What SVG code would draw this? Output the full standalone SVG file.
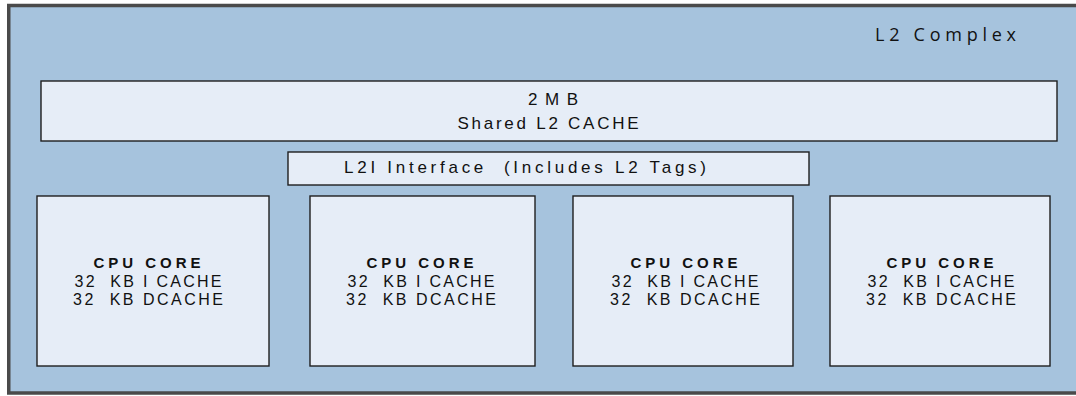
<svg xmlns="http://www.w3.org/2000/svg" width="1076" height="396" viewBox="0 0 1076 396">
<style>
.box{fill:#e6edf7;stroke:#1e1e1e;stroke-width:1.4}
.t{font-family:"Liberation Sans",Arial,sans-serif;font-size:17px;fill:#111}
.c{font-family:"Liberation Sans",Arial,sans-serif;font-size:16px;fill:#111;text-anchor:middle}
.b{font-weight:bold;font-size:15px}
</style>
<rect width="1076" height="396" fill="#ffffff"/>
<g id="l2complex">
<rect x="8.75" y="5.5" width="1080" height="387.5" fill="#a6c3dd" stroke="#4a4a4a" stroke-width="3.5"/>
<text x="875" y="41" font-family="'Open Sans','Noto Sans',sans-serif" font-size="18" fill="#111" textLength="141" lengthAdjust="spacing">L2 Complex</text>
</g>
<g id="shared-l2">
<rect class="box" x="41" y="81" width="1016" height="60"/>
<text class="t" x="553" y="105" text-anchor="middle" textLength="50" lengthAdjust="spacing">2MB</text>
<text class="t" x="548" y="129" text-anchor="middle" textLength="181" lengthAdjust="spacing">Shared L2 CACHE</text>
</g>
<g id="l2i">
<rect class="box" x="288" y="152" width="521" height="33"/>
<text class="t" x="344" y="173" xml:space="preserve" textLength="362" lengthAdjust="spacing">L2I Interface  (Includes L2 Tags)</text>
</g>
<g id="core1">
<rect class="box" x="37" y="196" width="232" height="170"/>
<text class="c b" x="147" y="268" textLength="107" lengthAdjust="spacing">CPU CORE</text>
<text class="c" x="148" y="287" xml:space="preserve" textLength="147" lengthAdjust="spacing">32  KB I CACHE</text>
<text class="c" x="148" y="305" xml:space="preserve" textLength="150" lengthAdjust="spacing">32  KB DCACHE</text>
</g>
<g id="core2">
<rect class="box" x="310" y="196" width="225" height="170"/>
<text class="c b" x="420" y="268" textLength="107" lengthAdjust="spacing">CPU CORE</text>
<text class="c" x="421" y="287" xml:space="preserve" textLength="147" lengthAdjust="spacing">32  KB I CACHE</text>
<text class="c" x="421" y="305" xml:space="preserve" textLength="150" lengthAdjust="spacing">32  KB DCACHE</text>
</g>
<g id="core3">
<rect class="box" x="573" y="196" width="220" height="170"/>
<text class="c b" x="684" y="268" textLength="107" lengthAdjust="spacing">CPU CORE</text>
<text class="c" x="685" y="287" xml:space="preserve" textLength="147" lengthAdjust="spacing">32  KB I CACHE</text>
<text class="c" x="685" y="305" xml:space="preserve" textLength="150" lengthAdjust="spacing">32  KB DCACHE</text>
</g>
<g id="core4">
<rect class="box" x="830" y="196" width="220" height="170"/>
<text class="c b" x="940" y="268" textLength="107" lengthAdjust="spacing">CPU CORE</text>
<text class="c" x="941" y="287" xml:space="preserve" textLength="147" lengthAdjust="spacing">32  KB I CACHE</text>
<text class="c" x="941" y="305" xml:space="preserve" textLength="150" lengthAdjust="spacing">32  KB DCACHE</text>
</g>
<g id="connectors"></g>
</svg>
